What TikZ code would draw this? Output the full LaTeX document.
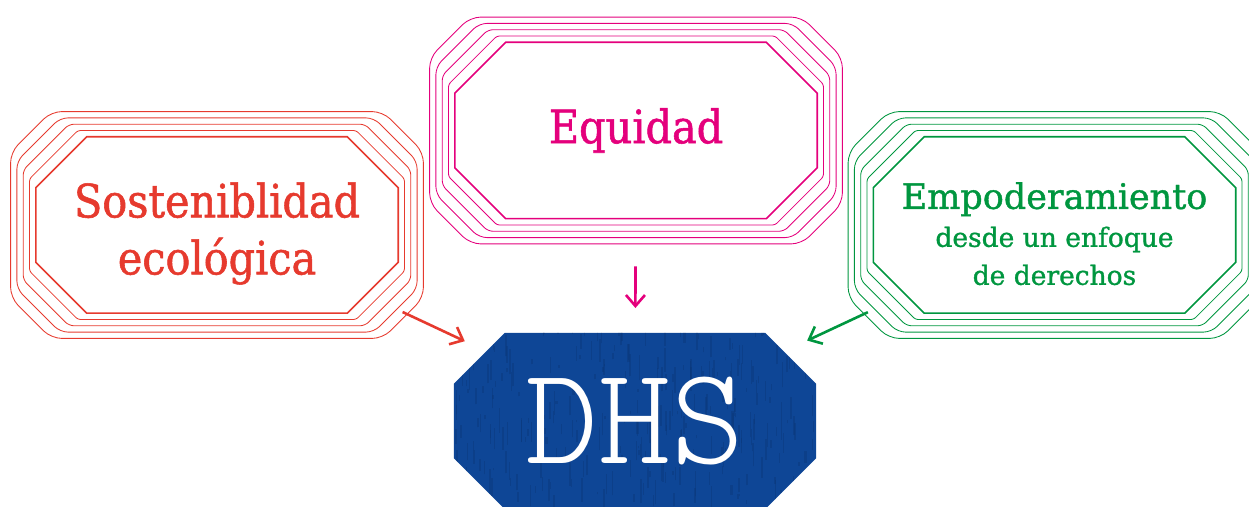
\documentclass[tikz,border=0pt]{standalone}
\usepackage{fontspec}
\newfontfamily\slabfont[FakeBold=1.2]{DejaVu Serif Condensed}
\newfontfamily\slabwide[FakeBold=1.2]{DejaVu Serif}
\usetikzlibrary{arrows.meta,backgrounds}
\definecolor{sostred}{HTML}{E63A2E}
\definecolor{equipink}{HTML}{E4007C}
\definecolor{empogreen}{HTML}{00963F}
\definecolor{dhsblue}{HTML}{0E4696}
\definecolor{dhsdark}{HTML}{0A3677}
\tikzset{
  octbox/.style={minimum width=362pt, minimum height=176pt, inner sep=0pt, align=center},
  conn/.style={line width=2.6pt, -{Straight Barb[length=11pt,width=19pt]}},
}
% octagon round a node, pushed out by #2
\newcommand{\octagon}[3]{%
  \pgfmathsetmacro\ringa{51-1.414*#2}%
  \pgfmathsetmacro\ringb{1.414*#2-51}%
  \pgfmathsetmacro\ringr{0.414*#2}%
  \path[#3, rounded corners=\ringr pt]
    ([xshift=\ringa pt, yshift=#2 pt]#1.north west) -- ([xshift=\ringb pt, yshift=#2 pt]#1.north east)
    -- ([xshift=#2 pt, yshift=\ringb pt]#1.north east) -- ([xshift=#2 pt, yshift=\ringa pt]#1.south east)
    -- ([xshift=\ringb pt, yshift=-#2 pt]#1.south east) -- ([xshift=\ringa pt, yshift=-#2 pt]#1.south west)
    -- ([xshift=-#2 pt, yshift=\ringa pt]#1.south west) -- ([xshift=-#2 pt, yshift=\ringb pt]#1.north west) -- cycle;}
\newcommand{\octrings}[2]{%
  \foreach \k in {0,...,4}{
    \pgfmathsetmacro\ringd{6.3*\k}
    \pgfmathsetmacro\ringlw{\k==0 ? 1.6 : 0.85}
    \octagon{#1}{\ringd}{draw=#2, line width=\ringlw pt}
  }}
\begin{document}
\begin{tikzpicture}[x=1pt, y=1pt]
\useasboundingbox (0,0) rectangle (1249,506);
\node[octbox, text=sostred, font=\slabfont\fontsize{46}{57}\selectfont] (sost) at (217,281)
  {\rule{0pt}{52pt}Sosteniblidad\\ecológica};
\node[octbox, text=equipink, font=\slabfont\fontsize{46}{50}\selectfont] (equi) at (636,375.5) {Equidad};
\node[octbox, text=empogreen, font=\slabwide\fontsize{26.5}{38}\selectfont] (empo) at (1054.5,281)
  {{\fontsize{35}{39}\selectfont\rule{0pt}{44pt}Empoderamiento}\\desde un enfoque\\de derechos};
\node[octbox, text=white, font=\ttfamily\fontseries{l}\fontsize{139}{139}\selectfont] (dhs) at (635,85) {DHS};
\octrings{sost}{sostred}
\octrings{equi}{equipink}
\octrings{empo}{empogreen}
% blue plate with a worn look
\begin{pgfonlayer}{background}
\octagon{dhs}{0}{fill=dhsblue}
\begin{scope}
\octagon{dhs}{0}{clip}
\pgfmathsetseed{42}
\foreach \i in {1,...,320}{
  \pgfmathsetmacro\tx{362*rnd}
  \pgfmathsetmacro\ty{176*rnd}
  \pgfmathsetmacro\tl{2+24*rnd}
  \pgfmathsetmacro\tw{0.5+1.8*rnd}
  \draw[dhsdark, opacity=.4, line width=\tw pt] ([xshift=\tx pt, yshift=\ty pt]dhs.south west) -- ++(0,\tl);
}
\end{scope}
\end{pgfonlayer}
\draw[conn, sostred, shorten <=205pt, shorten >=188pt] (sost.center) -- (dhs.center);
\draw[conn, equipink, shorten <=136pt, shorten >=113pt] (equi.center) -- (dhs.center);
\draw[conn, empogreen, shorten <=206pt, shorten >=190pt] (empo.center) -- (dhs.center);
\end{tikzpicture}
\end{document}
